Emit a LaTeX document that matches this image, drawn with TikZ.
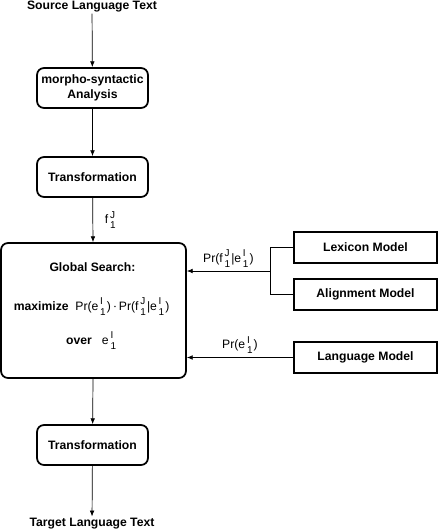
\documentclass[tikz,border=0pt]{standalone}
\usepackage{fontspec}
\setmainfont{Liberation Sans}
\usetikzlibrary{positioning,calc,arrows.meta}
\newcommand{\ix}[3]{#1\kern1.5pt\rlap{\raisebox{0.85ex}{\fontsize{8.5}{8.5}\selectfont #3}}\raisebox{-0.75ex}{\fontsize{8.5}{8.5}\selectfont #2}\kern1pt}
\tikzset{
  flow box/.style={draw,line width=1.5pt,rounded corners=6pt,align=center,
    minimum width=3.33cm,minimum height=1.2cm,font=\fontsize{10.4}{12.5}\selectfont\bfseries,inner sep=3pt},
  model box/.style={draw,line width=1.5pt,align=center,minimum width=4.29cm,
    minimum height=.93cm,font=\fontsize{10.4}{12.5}\selectfont\bfseries,inner sep=3pt},
  flow text/.style={font=\fontsize{10.4}{12.5}\selectfont\bfseries,inner sep=1pt},
  flow arrow/.style={-{Latex[length=5pt,width=4pt]},semithick},
  flow line/.style={semithick},
  flow label/.style={font=\fontsize{10.4}{12.5}\selectfont,inner sep=2pt}
}
\begin{document}
\begin{tikzpicture}
  \useasboundingbox (0,0) rectangle (13.2,-15.96);
  % main column
  \node[flow text] (src) at (2.76,-0.2) {Source Language Text};
  \node[flow box] (morph) at (2.775,-2.64) {morpho-syntactic\\Analysis};
  \node[flow box] (trans) at (2.775,-5.31) {Transformation};
  \node[flow box,minimum width=5.55cm,minimum height=4.05cm] (search) at (2.805,-9.315) {};
  \node[flow text] (title) at (2.775,-8.0) {Global Search:};
  \node[flow label] (maxi) at (2.75,-9.2)
    {\textbf{maximize}\ \ Pr(\ix{e}{1}{I})\,{\large$\cdot$}\,Pr(\ix{f}{1}{J}|\ix{e}{1}{I})};
  \node[flow label] (over) at (2.75,-10.22) {\textbf{over}\ \ \ \ix{e}{1}{I}};
  \node[flow box] (trans2) at (2.775,-13.35) {Transformation};
  \node[flow text] (tgt) at (2.76,-15.7) {Target Language Text};
  % models
  \node[model box] (lex) at (10.965,-7.425) {Lexicon Model};
  \node[model box] (align) at (10.965,-8.835) {Alignment Model};
  \node[model box] (lang) at (10.965,-10.725) {Language Model};
  \coordinate (junc) at (8.1,-8.13);

  \draw[flow arrow] (src) -- (morph);
  \draw[flow arrow] (morph) -- (trans);
  \draw[flow arrow] (trans) -- node[flow label,right=8pt]{\ix{f}{1}{J}} (search);
  \draw[flow arrow] (search) -- (trans2);
  \draw[flow arrow] (trans2) -- (tgt);
  \draw[flow line] (lex.west) -- (lex.west -| junc) -- (align.west -| junc) -- (align.west);
  \draw[flow arrow] (junc) -- node[flow label,above=1pt]{Pr(\ix{f}{1}{J}|\ix{e}{1}{I})} (junc -| search.east);
  \draw[flow arrow] (lang.west) -- node[flow label,above=1pt]{Pr(\ix{e}{1}{I})} (lang.west -| search.east);
\end{tikzpicture}
\end{document}
